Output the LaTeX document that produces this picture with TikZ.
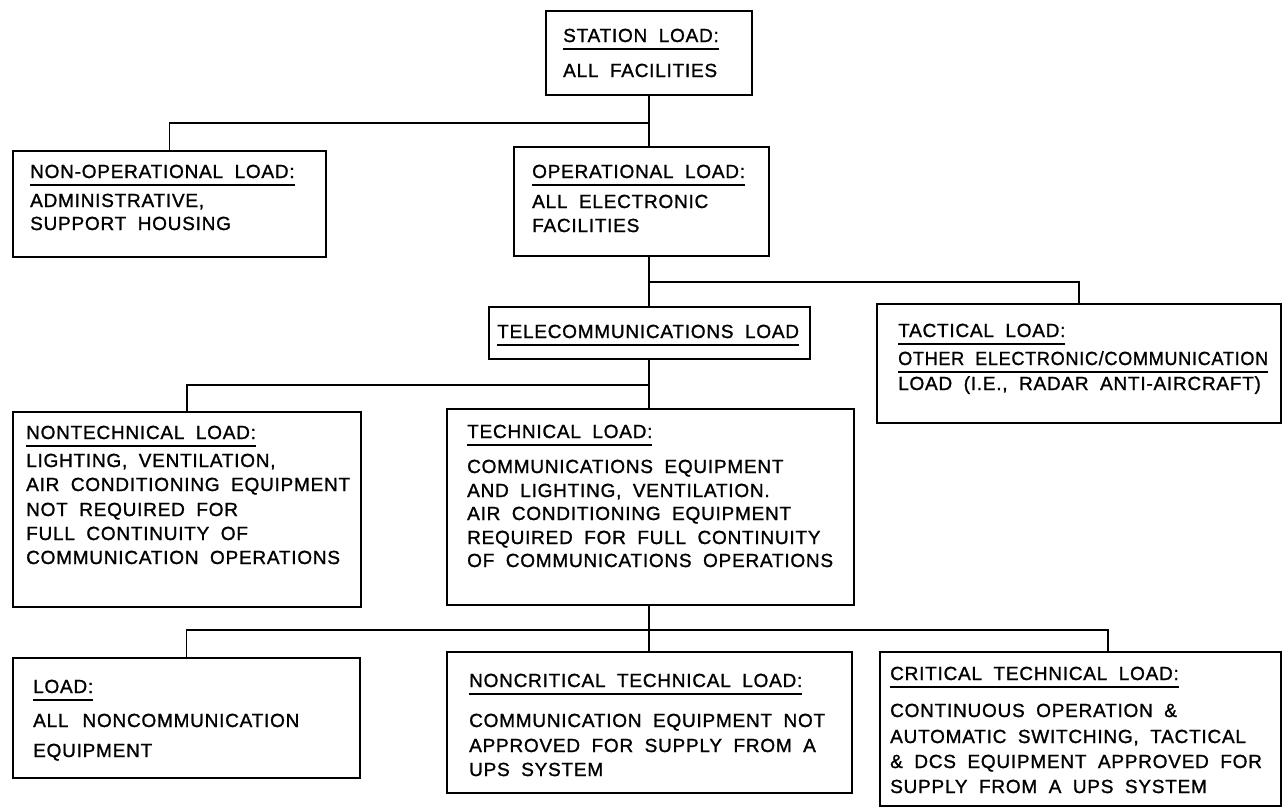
\documentclass[tikz,border=0pt]{standalone}
\usepackage{fontspec}
\setmainfont{Liberation Sans}[LetterSpace=4, WordSpace=1.9, FakeBold=1.2]
\newcommand\hd[1]{\sbox0{#1}\rlap{\rule[-7.5pt]{\wd0}{1.8pt}}\usebox0}
\begin{document}
\begin{tikzpicture}[x=1pt,y=-1pt,
  box/.style={draw, line width=1.8pt, rectangle, inner sep=0pt, outer sep=0pt, anchor=north west},
  txt/.style={anchor=base west, inner sep=0pt, font=\fontsize{19}{22}\selectfont},
  conn/.style={line width=1.5pt}]
\useasboundingbox (0,0) rectangle (1283,809);
\fill[white] (0,0) rectangle (1283,809);
% boxes
\node[box, minimum width=206, minimum height=84] (st) at (546,11) {};
\node[box, minimum width=313, minimum height=106] (nonop) at (13,151) {};
\node[box, minimum width=255, minimum height=109] (op) at (514,147) {};
\node[box, minimum width=321, minimum height=52] (tel) at (489,307) {};
\node[box, minimum width=404, minimum height=119] (tac) at (877,304) {};
\node[box, minimum width=348, minimum height=195] (ntech) at (13,412) {};
\node[box, minimum width=407, minimum height=196] (tech) at (447,409) {};
\node[box, minimum width=347, minimum height=120] (load) at (13,658) {};
\node[box, minimum width=405, minimum height=141] (ncrit) at (447,652) {};
\node[box, minimum width=401, minimum height=154] (crit) at (880,652) {};
% texts
\node[txt] (st-a) at (563,42) {\hd{STATION LOAD:}};
\node[txt] (st-b) at (563,77) {ALL FACILITIES};
\node[txt] (nonop-a) at (30,178) {\hd{NON-OPERATIONAL LOAD:}};
\node[txt] (nonop-b) at (30,207) {ADMINISTRATIVE,};
\node[txt] (nonop-c) at (30,230) {SUPPORT HOUSING};
\node[txt] (op-a) at (532,178) {\hd{OPERATIONAL LOAD:}};
\node[txt] (op-b) at (532,208) {ALL ELECTRONIC};
\node[txt] (op-c) at (532,232) {FACILITIES};
\node[txt] (tel-a) at (497,338) {\hd{TELECOMMUNICATIONS LOAD}};
\node[txt] (tac-a) at (898,337) {\hd{TACTICAL LOAD:}};
\node[txt] (tac-b) at (898,365) {\hd{\scalebox{0.95}[1]{OTHER ELECTRONIC/COMMUNICATION}}};
\node[txt] (tac-c) at (898,390) {LOAD (I.E., RADAR ANTI-AIRCRAFT)};
\node[txt] (ntech-a) at (26,439) {\hd{NONTECHNICAL LOAD:}};
\node[txt] (ntech-b) at (26,467) {LIGHTING, VENTILATION,};
\node[txt] (ntech-c) at (26,491) {AIR CONDITIONING EQUIPMENT};
\node[txt] (ntech-d) at (26,516) {NOT REQUIRED FOR};
\node[txt] (ntech-e) at (26,540) {FULL CONTINUITY OF};
\node[txt] (ntech-f) at (26,564) {COMMUNICATION OPERATIONS};
\node[txt] (tech-a) at (467,438) {\hd{TECHNICAL LOAD:}};
\node[txt] (tech-b) at (467,473) {COMMUNICATIONS EQUIPMENT};
\node[txt] (tech-c) at (467,497) {AND LIGHTING, VENTILATION.};
\node[txt] (tech-d) at (467,520) {AIR CONDITIONING EQUIPMENT};
\node[txt] (tech-e) at (467,544) {REQUIRED FOR FULL CONTINUITY};
\node[txt] (tech-f) at (467,567) {OF COMMUNICATIONS OPERATIONS};
\node[txt] (load-a) at (33,693) {\hd{LOAD:}};
\node[txt] (load-b) at (33,727) {ALL\hspace{14pt}NONCOMMUNICATION};
\node[txt] (load-c) at (33,757) {EQUIPMENT};
\node[txt] (ncrit-a) at (469,687) {\hd{NONCRITICAL TECHNICAL LOAD:}};
\node[txt] (ncrit-b) at (469,727) {COMMUNICATION EQUIPMENT NOT};
\node[txt] (ncrit-c) at (469,752) {APPROVED FOR SUPPLY FROM A};
\node[txt] (ncrit-d) at (469,776) {UPS SYSTEM};
\node[txt] (crit-a) at (890,680) {\hd{CRITICAL TECHNICAL LOAD:}};
\node[txt] (crit-b) at (890,717) {CONTINUOUS OPERATION \&};
\node[txt] (crit-c) at (890,743) {AUTOMATIC SWITCHING, TACTICAL};
\node[txt] (crit-d) at (890,768) {\& DCS EQUIPMENT APPROVED FOR};
\node[txt] (crit-e) at (890,793) {SUPPLY FROM A UPS SYSTEM};
% junctions
\coordinate (j1) at (649,123);
\coordinate (j2) at (649,282);
\coordinate (j3) at (649,385);
\coordinate (j4) at (649,630);
\coordinate (k4) at (1108,630);
% connectors
\draw[conn] (st.south -| j1) -- (j1 |- op.north);
\draw[conn] (j1) -| (nonop.north);
\draw[conn] (op.south -| j2) -- (j2 |- tel.north);
\draw[conn] (j2) -| (tac.north);
\draw[conn] (tel.south -| j3) -- (j3 |- tech.north);
\draw[conn] (j3) -| (ntech.north);
\draw[conn] (tech.south -| j4) -- (j4 |- ncrit.north);
\draw[conn] (j4) -| (load.north);
\draw[conn] (j4) -- (k4) -- (k4 |- crit.north);
\end{tikzpicture}
\end{document}
